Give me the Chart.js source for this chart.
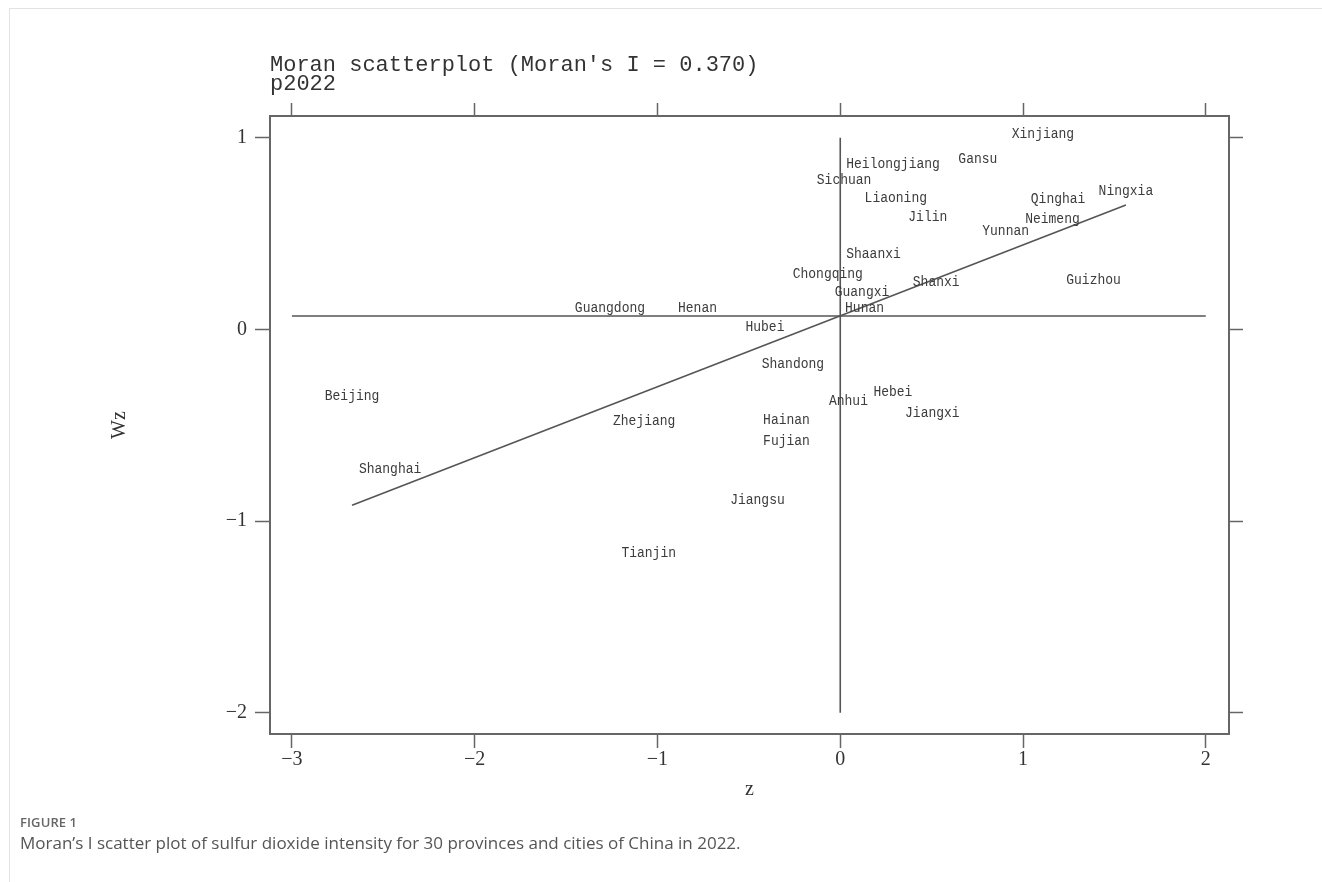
<!DOCTYPE html>
<html>
<head>
<meta charset="utf-8">
<script src="https://cdn.jsdelivr.net/npm/chart.js@4.4.0/dist/chart.umd.min.js"></script>
<style>
  html, body { margin: 0; padding: 0; background: #fff; }
  #wrap { position: relative; width: 1322px; height: 882px; overflow: hidden; background: #fff; }
  #frame { position: absolute; left: 9px; top: 8px; right: -2px; bottom: -2px;
           border-left: 1px solid #e2e2e2; border-top: 1px solid #e2e2e2; }
  #chart { position: absolute; left: 0; top: 0; }
  #figno { position: absolute; left: 20px; top: 813px; font-family: "Open Sans", sans-serif;
           font-size: 13px; font-weight: 600; color: #666; letter-spacing: 0.1px; }
  #figcap { position: absolute; left: 20px; top: 831px; font-family: "Open Sans", sans-serif;
            font-size: 17px; color: #555; }
</style>
</head>
<body>
<div id="wrap">
  <div id="frame"></div>
  <canvas id="chart" width="1322" height="882"></canvas>
  <div id="figno">FIGURE 1</div>
  <div id="figcap">Moran’s I scatter plot of sulfur dioxide intensity for 30 provinces and cities of China in 2022.</div>
</div>
<script>
// Provinces and their standardized value (z) and spatial lag (Wz)
const provinces = [
  "Xinjiang", "Gansu", "Heilongjiang", "Sichuan", "Liaoning", "Jilin",
  "Qinghai", "Ningxia", "Neimeng", "Yunnan", "Shaanxi", "Chongqing",
  "Shanxi", "Guizhou", "Guangxi", "Hunan", "Hubei", "Guangdong",
  "Henan", "Shandong", "Beijing", "Zhejiang", "Hainan", "Fujian",
  "Shanghai", "Jiangsu", "Tianjin", "Anhui", "Hebei", "Jiangxi"
];
const zValues = [
  1.109, 0.753, 0.289, 0.021, 0.304, 0.479,
  1.192, 1.563, 1.161, 0.905, 0.182, -0.068,
  0.525, 1.386, 0.119, 0.133, -0.412, -1.260,
  -0.781, -0.259, -2.671, -1.073, -0.294, -0.294,
  -2.463, -0.453, -1.048, 0.045, 0.288, 0.504
];
const wzValues = [
  1.019, 0.889, 0.861, 0.778, 0.686, 0.585,
  0.679, 0.722, 0.578, 0.515, 0.392, 0.289,
  0.246, 0.258, 0.197, 0.110, 0.014, 0.110,
  0.110, -0.181, -0.347, -0.478, -0.473, -0.581,
  -0.728, -0.890, -1.165, -0.374, -0.327, -0.435
];
const xTicks = [-3, -2, -1, 0, 1, 2];
const yTicks = [1, 0, -1, -2];
const moranI = 0.370;
const meanZ = 0;
const meanWz = 0.07;
const variableName = "p2022";

const zMin = Math.min(...zValues);
const zMax = Math.max(...zValues);
const fitAt = z => meanWz + moranI * (z - meanZ);

const INK = "#555";
const TEXT = "#333";
const serif = "'Liberation Serif', 'DejaVu Serif', serif";
const mono = "'Liberation Mono', 'DejaVu Sans Mono', monospace";

const fmtTick = v => (v < 0 ? "\u2212" + Math.abs(v) : String(v));

const lineStyle = {
  showLine: true, borderColor: INK, borderWidth: 1.6,
  pointRadius: 0, pointHoverRadius: 0, fill: false, tension: 0
};

function axisBase(ticksArr, min, max, tickLen) {
  return {
    type: "linear", min, max,
    afterBuildTicks: s => { s.ticks = ticksArr.map(v => ({ value: v })); },
    grid: { drawOnChartArea: false, drawTicks: true, tickLength: tickLen,
            tickColor: "#666", tickWidth: 1.5 },
    border: { display: true, color: "#666", width: 2 }
  };
}

// Province names drawn centred on each point
const pointLabels = {
  id: "pointLabels",
  afterDatasetsDraw(chart) {
    const { ctx, scales } = chart;
    const ds = chart.data.datasets[0];
    ctx.save();
    ctx.font = "13px " + mono;
    ctx.fillStyle = "#3c3c3c";
    ctx.textAlign = "center";
    ctx.textBaseline = "middle";
    ds.data.forEach(p => {
      const px = scales.x.getPixelForValue(p.x);
      const py = scales.y.getPixelForValue(p.y);
      ctx.save();
      ctx.translate(px, py);
      ctx.scale(1, 1.15);
      ctx.fillText(p.name, 0, 0);
      ctx.restore();
    });
    ctx.restore();
  }
};

// Two-line heading above the plot box
const heading = {
  id: "heading",
  afterDraw(chart) {
    const { ctx, chartArea } = chart;
    ctx.save();
    ctx.font = "22px " + mono;
    ctx.fillStyle = TEXT;
    ctx.textAlign = "left";
    ctx.textBaseline = "alphabetic";
    ctx.fillText("Moran scatterplot (Moran's I = " + moranI.toFixed(3) + ")", chartArea.left, 71);
    ctx.fillText(variableName, chartArea.left, 90);
    ctx.restore();
  }
};

new Chart(document.getElementById("chart"), {
  type: "scatter",
  data: {
    datasets: [
      {
        label: "provinces",
        data: provinces.map((name, i) => ({ x: zValues[i], y: wzValues[i], name })),
        pointRadius: 0, pointHoverRadius: 0, showLine: false
      },
      { label: "mean Wz", data: [{ x: xTicks[0], y: meanWz }, { x: xTicks[xTicks.length - 1], y: meanWz }], ...lineStyle },
      { label: "mean z", data: [{ x: meanZ, y: yTicks[yTicks.length - 1] }, { x: meanZ, y: yTicks[0] }], ...lineStyle },
      { label: "fit", data: [{ x: zMin, y: fitAt(zMin) }, { x: zMax, y: fitAt(zMax) }], ...lineStyle }
    ]
  },
  options: {
    responsive: false,
    animation: false,
    events: [],
    layout: { padding: { top: 103, left: 0, right: 79, bottom: 82 } },
    plugins: { legend: { display: false }, title: { display: false }, tooltip: { enabled: false } },
    scales: {
      x: Object.assign(axisBase(xTicks, -3.12, 2.127, 14), {
        position: "bottom",
        afterFit: s => { s.height = 66; },
        ticks: { padding: 0, color: TEXT, font: { family: serif, size: 20 },
                 callback: fmtTick, autoSkip: false, maxRotation: 0 },
        title: { display: true, text: "z", color: TEXT, padding: 0,
                 font: { family: serif, size: 20, lineHeight: 1 } }
      }),
      x2: Object.assign(axisBase(xTicks, -3.12, 2.127, 13), {
        position: "top",
        afterFit: s => { s.height = 13; },
        ticks: { display: false }
      }),
      y: Object.assign(axisBase(yTicks, -2.111, 1.113, 15), {
        position: "left",
        afterFit: s => { s.width = 270; },
        ticks: { padding: 8, color: TEXT, font: { family: serif, size: 20 },
                 callback: fmtTick, autoSkip: false },
        title: { display: true, text: "Wz", color: TEXT, padding: { top: 110, bottom: 0 },
                 font: { family: serif, size: 20, lineHeight: 1 } }
      }),
      y2: Object.assign(axisBase(yTicks, -2.111, 1.113, 14), {
        position: "right",
        afterFit: s => { s.width = 14; },
        ticks: { display: false }
      })
    }
  },
  plugins: [pointLabels, heading]
});
</script>
</body>
</html>
